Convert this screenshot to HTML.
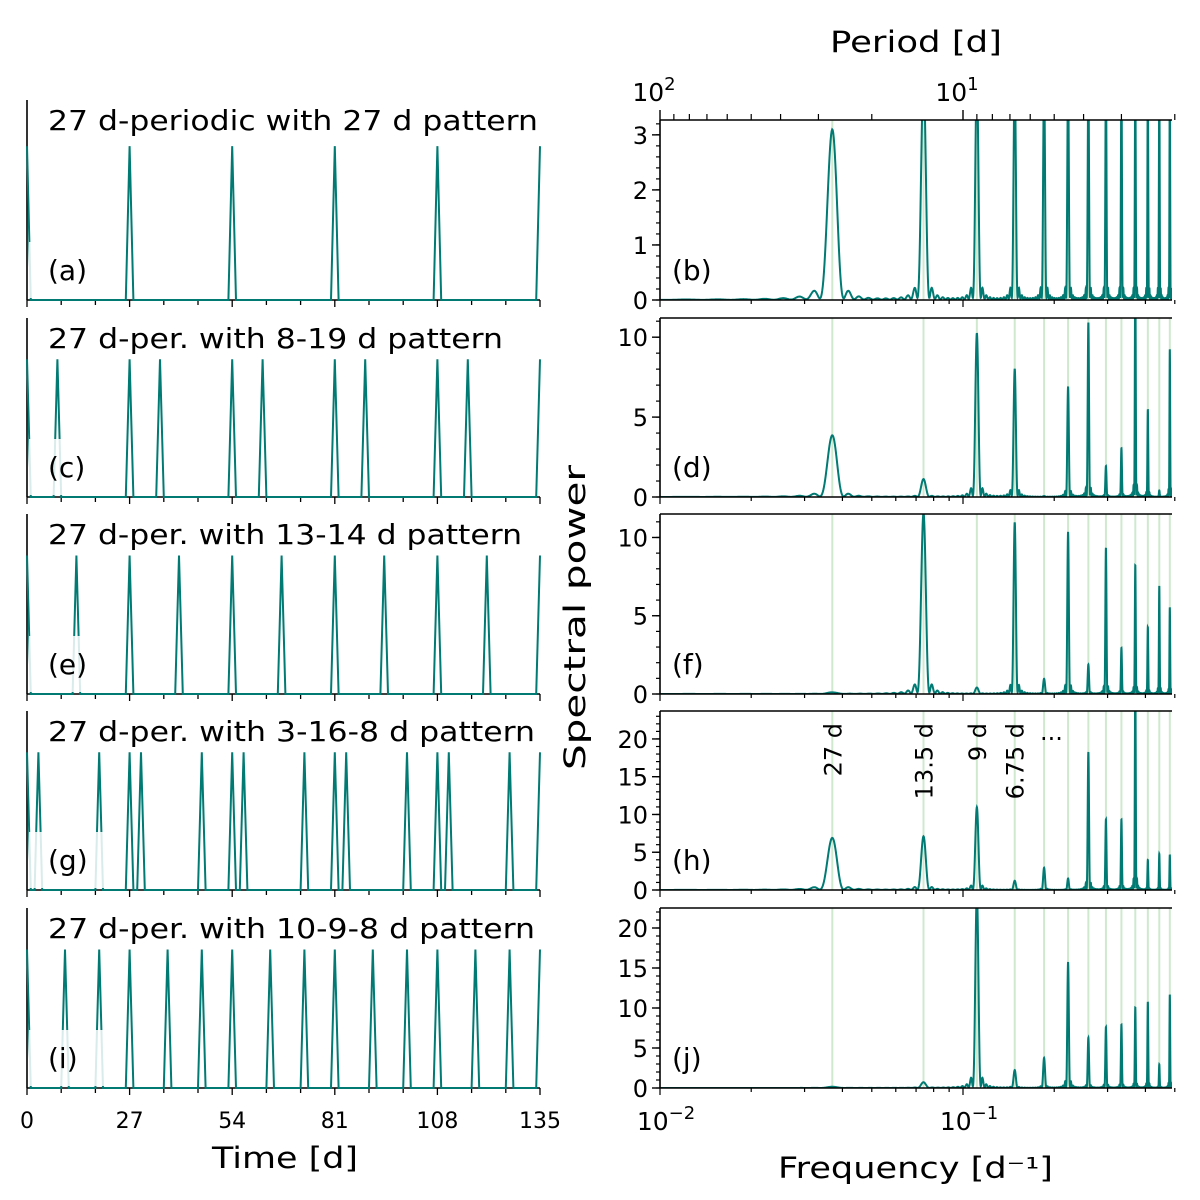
<!DOCTYPE html>
<html><head><meta charset="utf-8"><style>
html,body{margin:0;padding:0;background:#fff;}
svg{display:block;font-family:"DejaVu Sans","Liberation Sans",sans-serif;}
</style></head><body>
<svg id="fig" width="1200" height="1200" viewBox="0 0 1200 1200" xmlns="http://www.w3.org/2000/svg">
<text x="830" y="52" font-size="29" textLength="172" lengthAdjust="spacingAndGlyphs">Period [d]</text>
<text x="212" y="1168" font-size="29" textLength="146" lengthAdjust="spacingAndGlyphs">Time [d]</text>
<text x="778" y="1178" font-size="29" textLength="275" lengthAdjust="spacingAndGlyphs">Frequency [d⁻¹]</text>
<text transform="translate(585,770) rotate(-90)" font-size="29" textLength="305" lengthAdjust="spacingAndGlyphs">Spectral power</text>
</svg>
<script>
// ---- data ----
const panelTitles = ["27 d-periodic with 27 d pattern","27 d-per. with 8-19 d pattern","27 d-per. with 13-14 d pattern","27 d-per. with 3-16-8 d pattern","27 d-per. with 10-9-8 d pattern"];
const titleWidths = [490,455,474,487,487];
const leftLabels = ["(a)","(c)","(e)","(g)","(i)"];
const rightLabels = ["(b)","(d)","(f)","(h)","(j)"];
const eventsA = [0,27,54,81,108,135];
const eventsC = [0,8,27,35,54,62,81,89,108,116,135];
const eventsE = [0,13,27,40,54,67,81,94,108,121,135];
const eventsG = [0,3,19,27,30,46,54,57,73,81,84,100,108,111,127,135];
const eventsI = [0,10,19,27,37,46,54,64,73,81,91,100,108,118,127,135];
const timeTicks = [0,27,54,81,108,135];
const harmonics = [1,2,3,4,5,6,7,8,9,10,11,12,13];
const powerB = [3.05,4,4,4,4,4,4,4,4,4,4,4,4];
const powerD = [3.8,1.1,10.1,7.9,0.05,6.8,10.75,1.9,3.0,14,5.4,0.4,9.1];
const powerF = [0.1,11.4,0.4,10.8,0.95,10.2,1.85,9.2,2.9,8.1,4.2,6.8,5.45];
const powerH = [6.8,7.0,10.8,1.2,2.9,1.5,18,9.2,9.2,28,3.9,4.7,4.6];
const powerJ = [0.15,0.7,24,2.2,3.7,15.5,6.2,7.5,7.8,9.9,10.6,2.9,11.5];
const yMaxRight = [3.27,11.2,11.5,23.7,22.5];
const yTicksB = [0,1,2,3];
const yTicks5 = [0,5,10];
const yTicks20 = [0,5,10,15,20];
const periodMinor = [90,80,70,60,50,40,30,20,9,8,7,6,5,4,3,2];
const freqMinor = [0.02,0.03,0.04,0.05,0.06,0.07,0.08,0.09,0.2,0.3,0.4,0.5];
const hLabels = ["27 d","13.5 d","9 d","6.75 d"];

const NS="http://www.w3.org/2000/svg";
const svg=document.getElementById('fig');
function el(tag,attrs,parent){const e=document.createElementNS(NS,tag);for(const k in attrs)e.setAttribute(k,attrs[k]);(parent||svg).appendChild(e);return e;}
const teal="#007a73";
const rows=[[100,300],[318,497],[514,694],[711,890],[908,1088]];
const rowsR=[[120,300],[318,497],[514,694],[711,890],[908,1088]];
const LX0=27,LX1=540,RX0=660,RX1=1172;
const tx=t=>LX0+(t/135)*(LX1-LX0);
const fx=f=>RX0+(Math.log10(f)+2)*303;
const eventsAll=[eventsA,eventsC,eventsE,eventsG,eventsI];
const powers=[powerB,powerD,powerF,powerH,powerJ];
const yTicksAll=[yTicksB,yTicks5,yTicks5,yTicks20,yTicks20];

// ---- left panels ----
for(let i=0;i<5;i++){
  const [top,bot]=rows[i];
  const ymax=1.3;
  const ty=v=>bot-(v/ymax)*(bot-top);
  const g=el('g',{});
  
  
  el('line',{x1:LX0,y1:top,x2:LX0,y2:bot,stroke:'#000','stroke-width':1.6},g);
  el('line',{x1:LX0,y1:bot,x2:LX1,y2:bot,stroke:'#000','stroke-width':1.6},g);
  for(let t=0;t<=135;t+=9){
    const major=timeTicks.includes(t);
    el('line',{x1:tx(t),y1:bot,x2:tx(t),y2:bot+(major?7:5),stroke:'#000','stroke-width':1.3},g);
  }
  let pts=[];
  const ev=eventsAll[i];
  ev.forEach(t=>{ [[t-1,0],[t,1],[t+1,0]].forEach(p=>{if(p[0]>=0&&p[0]<=135)pts.push(p);});});
  pts.sort((a,b)=>a[0]-b[0]);
  if(pts[0][0]>0)pts.unshift([0,0]);
  const line=el('polyline',{points:pts.map(p=>tx(p[0]).toFixed(1)+','+ty(p[1]).toFixed(1)).join(' '),fill:'none',stroke:teal,'stroke-width':2},g);
  
  
  el('rect',{x:LX0+2,y:bot-58,width:78,height:56,fill:'#fff','fill-opacity':0.85},g);
  const lb=el('text',{x:48,y:bot-20,'font-size':28},g);lb.textContent=leftLabels[i];
  
  
  const tt=el('text',{x:48,y:top+30,'font-size':28,textLength:titleWidths[i],lengthAdjust:'spacingAndGlyphs'},g);tt.textContent=panelTitles[i];
  
  
}
timeTicks.forEach(t=>{const e=el('text',{x:tx(t),y:1128,'font-size':22,'text-anchor':'middle'});e.textContent=t;
  
  });

// ---- right panels ----
const T=300;
function sinc2(x){if(Math.abs(x)<1e-9)return 1;const a=Math.PI*x;return Math.pow(Math.sin(a)/a,2);}
for(let i=0;i<5;i++){
  const [top,bot]=rowsR[i];
  const ymax=yMaxRight[i];
  const ty=v=>bot-(v/ymax)*(bot-top);
  const g=el('g',{});
  
  
  const cid='clip'+i;
  const cp=el('clipPath',{id:cid},g);el('rect',{x:RX0,y:top,width:RX1-RX0,height:bot-top},cp);
  harmonics.forEach(n=>{const x=fx(n/27);const l=el('line',{x1:x,y1:top,x2:x,y2:bot,stroke:'#cfe9cf','stroke-width':2},g);
    
    });
  const P=powers[i];let d='';
  for(let f=0.01;f<=0.5;f+=0.00015){
    let p=0;
    harmonics.forEach((n,k)=>{const fn=n/27;const df=f-fn;p+=P[k]*sinc2(df*T)+P[k]*0.015/(1+Math.pow(df/0.004,2));});
    d+=(d?'L':'M')+fx(f).toFixed(2)+','+ty(p).toFixed(2);
  }
  const path=el('path',{d:d,fill:'none',stroke:teal,'stroke-width':2,'clip-path':'url(#'+cid+')'},g);
  
  
  el('line',{x1:RX0,y1:top,x2:RX1,y2:top,stroke:'#000','stroke-width':1.6},g);
  el('line',{x1:RX0,y1:bot,x2:RX1,y2:bot,stroke:'#000','stroke-width':1.6},g);
  el('line',{x1:RX0,y1:top,x2:RX0,y2:bot,stroke:'#000','stroke-width':1.6},g);
  const mstep=i===0?0.2:1;
  for(let v=0;v<=ymax+1e-6;v+=mstep){el('line',{x1:RX0-4,y1:ty(v),x2:RX0,y2:ty(v),stroke:'#000','stroke-width':1.2},g);}
  yTicksAll[i].forEach(v=>{el('line',{x1:RX0-8,y1:ty(v),x2:RX0,y2:ty(v),stroke:'#000','stroke-width':1.4},g);
    const t=el('text',{x:RX0-12,y:ty(v)+9,'font-size':24,'text-anchor':'end'},g);t.textContent=v;
    
    });
  [0.01,0.1].concat(freqMinor).forEach(f=>{el('line',{x1:fx(f),y1:bot,x2:fx(f),y2:bot+([0.01,0.1].includes(f)?7:4),stroke:'#000','stroke-width':1.2},g);});
  el('rect',{x:RX0+4,y:bot-50,width:60,height:46,fill:'#fff','fill-opacity':0.8},g);
  const lt=el('text',{x:672,y:bot-20,'font-size':28},g);lt.textContent=rightLabels[i];
  
  
}
// top period axis
const tg=el('g',{});


[100,10].forEach(P=>el('line',{x1:fx(1/P),y1:120,x2:fx(1/P),y2:110,stroke:'#000','stroke-width':1.4},tg));
periodMinor.forEach(P=>el('line',{x1:fx(1/P),y1:120,x2:fx(1/P),y2:114,stroke:'#000','stroke-width':1.2},tg));
[[100,'2'],[10,'1']].forEach(([P,e])=>{const t=el('text',{x:fx(1/P)-6,y:101,'font-size':25,'text-anchor':'middle'},tg);
  t.innerHTML='10<tspan dy="-11" font-size="18">'+e+'</tspan>';
  
  });
[[0.01,'−2'],[0.1,'−1']].forEach(([f,e])=>{const t=el('text',{x:fx(f)+6,y:1130,'font-size':25,'text-anchor':'middle'});
  t.innerHTML='10<tspan dy="-11" font-size="18">'+e+'</tspan>';
  
  });
// annotations in (h)
hLabels.forEach((s,k)=>{const x=fx((k+1)/27)+9;const t=el('text',{transform:'translate('+x+',723) rotate(-90)','font-size':24,'text-anchor':'end'});t.textContent=s;
  
  });
const dots=el('text',{x:1040,y:740,'font-size':24});dots.textContent='...';


</script>
</body></html>
